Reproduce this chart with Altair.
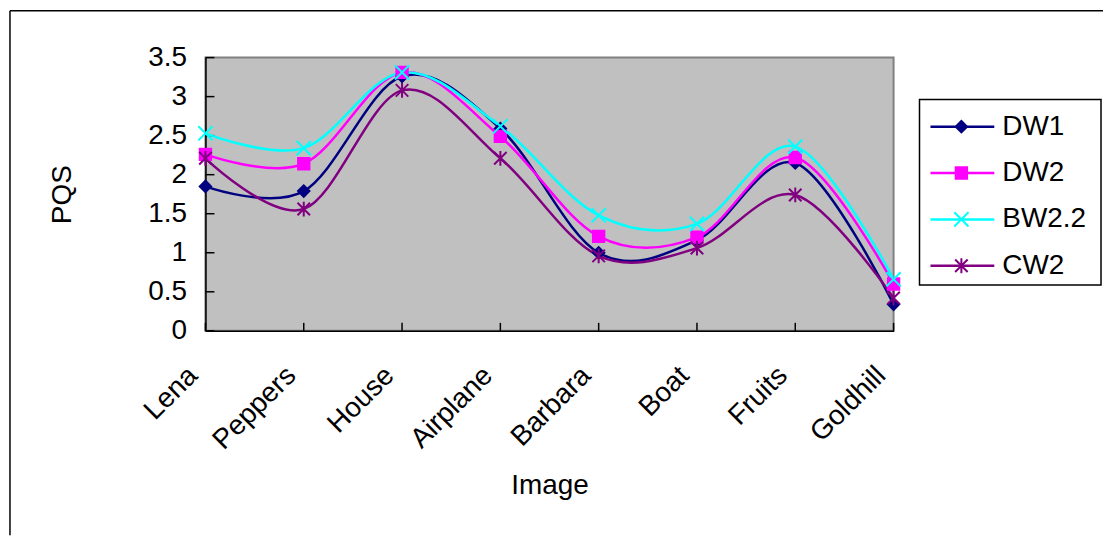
import altair as alt
import pandas as pd

# ---------------- data ----------------
categories = ["Lena", "Peppers", "House", "Airplane", "Barbara", "Boat", "Fruits", "Goldhill"]
series_names = ["DW1", "DW2", "BW2.2", "CW2"]
dw1 = [1.85, 1.79, 3.26, 2.59, 1.00, 1.16, 2.15, 0.34]
dw2 = [2.26, 2.14, 3.31, 2.49, 1.21, 1.20, 2.22, 0.60]
bw22 = [2.53, 2.34, 3.31, 2.62, 1.48, 1.37, 2.36, 0.66]
cw2 = [2.21, 1.56, 3.08, 2.21, 0.96, 1.06, 1.74, 0.42]
y_ticks = [0, 0.5, 1, 1.5, 2, 2.5, 3, 3.5]

# ---------------- styles ----------------
colors = ["#000080", "#FF00FF", "#00FFFF", "#800080"]
X_PATH = "M-1.25,-1.25L1.25,1.25M-1.25,1.25L1.25,-1.25"
STAR_PATH = "M-1.1,-1.1L1.1,1.1M-1.1,1.1L1.1,-1.1M0,-1.3L0,1.3"
shapes = ["diamond", "square", X_PATH, STAR_PATH]
fills = ["#000080", "#FF00FF", "transparent", "transparent"]
FONT = "Liberation Sans"
FS = 28
W, H = 690, 274

rows = []
for name, vals in zip(series_names, [dw1, dw2, bw22, cw2]):
    for c, v in zip(categories, vals):
        rows.append({"Image": c, "PQS": v, "Series": name})
df = pd.DataFrame(rows)

x_axis = alt.Axis(
    title="Image", labelAngle=315, labelAlign="right", labelBaseline="alphabetic",
    labelPadding=46, labelOffset=-7, ticks=False, grid=False, domainColor="black", domainWidth=1.5,
    labelFont=FONT, labelFontSize=FS, labelColor="black", labelOverlap=False,
    titleFont=FONT, titleFontSize=FS, titleFontWeight="normal", titleColor="black",
    titleX=345, titleY=141, titleBaseline="top", titleAlign="center",
)
y_axis = alt.Axis(
    title="PQS", values=y_ticks, format="~g", ticks=False, grid=False,
    labelPadding=19, domainColor="black", domainWidth=1.5,
    labelFont=FONT, labelFontSize=FS, labelColor="black", labelOverlap=False,
    labelFlush=False,
    titleFont=FONT, titleFontSize=FS, titleFontWeight="normal", titleColor="black",
    titleX=-135, titleY=137, titleBaseline="alphabetic", titleAngle=270, titleAlign="center",
)
x_enc = alt.X("Image:N", sort=categories,
              scale=alt.Scale(type="point", padding=0, domain=categories), axis=x_axis)
y_enc = alt.Y("PQS:Q", scale=alt.Scale(domain=[0, 3.5], nice=False), axis=y_axis)

color_scale = alt.Scale(domain=series_names, range=colors)
shape_scale = alt.Scale(domain=series_names, range=shapes)
fill_scale = alt.Scale(domain=series_names, range=fills)

lines = alt.Chart(df).mark_line(interpolate="cardinal", tension=0, strokeWidth=2.5).encode(
    x=x_enc, y=y_enc,
    color=alt.Color("Series:N", scale=color_scale, legend=None),
)
points = alt.Chart(df).mark_point(size=130, strokeWidth=2, opacity=1).encode(
    x=x_enc, y=y_enc,
    shape=alt.Shape("Series:N", scale=shape_scale, legend=None),
    stroke=alt.Stroke("Series:N", scale=color_scale, legend=None),
    fill=alt.Fill("Series:N", scale=fill_scale, legend=None),
)

ytick_df = pd.DataFrame({"PQS": y_ticks})
yticks = alt.Chart(ytick_df).mark_rule(color="black", strokeWidth=1.5).encode(
    y=y_enc, x=alt.value(0), x2=alt.value(9)
)
xtick_df = pd.DataFrame({"Image": categories})
xticks = alt.Chart(xtick_df).mark_rule(color="black", strokeWidth=1.5).encode(
    x=x_enc, y=alt.value(H - 8), y2=alt.value(H)
)

frame_df = pd.DataFrame({"a": [0]})
frame_top = alt.Chart(frame_df).mark_rule(color="black", strokeWidth=1.5).encode(
    x=alt.value(-196), x2=alt.value(900), y=alt.value(-47)
)
frame_left = alt.Chart(frame_df).mark_rule(color="black", strokeWidth=1.5).encode(
    x=alt.value(-196), y=alt.value(-47), y2=alt.value(479)
)

main = alt.layer(yticks, xticks, lines, points, frame_top, frame_left).properties(
    width=W, height=H,
    view=alt.ViewBackground(fill="#C0C0C0", stroke="#808080", strokeWidth=2),
)

# ---------------- legend ----------------
legend_df = pd.DataFrame({"Series": series_names})
lbase = alt.Chart(legend_df).encode(
    y=alt.Y("Series:N", sort=series_names, axis=None, scale=alt.Scale(domain=series_names))
)
leg_line = lbase.mark_rule(strokeWidth=2.5, yOffset=4).encode(
    x=alt.value(11), x2=alt.value(75),
    color=alt.Color("Series:N", scale=color_scale, legend=None),
)
leg_pt = lbase.mark_point(size=130, strokeWidth=2, opacity=1, yOffset=4).encode(
    x=alt.value(42),
    shape=alt.Shape("Series:N", scale=shape_scale, legend=None),
    stroke=alt.Stroke("Series:N", scale=color_scale, legend=None),
    fill=alt.Fill("Series:N", scale=fill_scale, legend=None),
)
leg_txt = lbase.mark_text(align="left", baseline="middle", font=FONT, fontSize=FS,
                          color="black", yOffset=4).encode(
    x=alt.value(83), text="Series:N"
)
legend = alt.layer(leg_line, leg_pt, leg_txt).properties(
    width=182, height=186,
    view=alt.ViewBackground(fill="white", stroke="black", strokeWidth=1.5),
)
spacer = alt.Chart(frame_df).mark_point(opacity=0).encode(
    x=alt.value(0), y=alt.value(0)
).properties(width=182, height=42, view=alt.ViewBackground(stroke="transparent"))

right = alt.vconcat(spacer, legend, spacing=0, bounds="flush")

chart = alt.hconcat(main, right, spacing=26, bounds="flush").properties(
    padding={"left": 8, "top": 8, "right": 0, "bottom": 0},
    background="white",
).configure(font=FONT)

chart.save("out.html", embed_options={"renderer": "svg", "actions": False})
